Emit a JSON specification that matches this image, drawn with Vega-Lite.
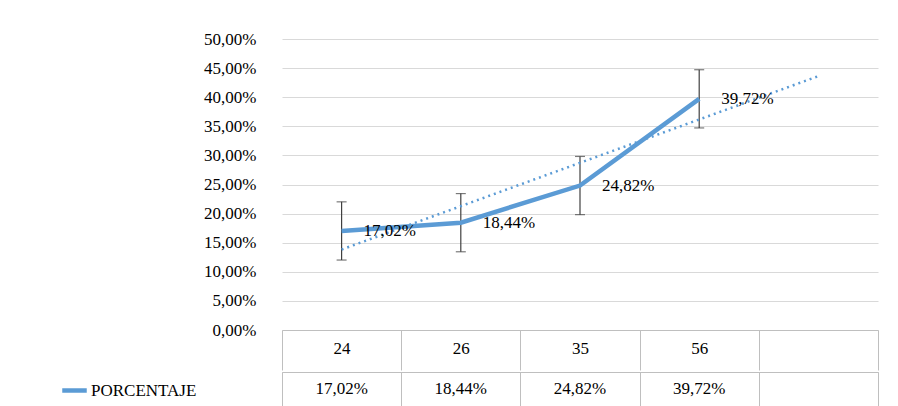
{
  "$schema": "https://vega.github.io/schema/vega-lite/v6.json",
  "padding": {"left": 60, "top": 30, "right": 5, "bottom": 0},
  "config": {
    "font": "Liberation Serif",
    "view": {"stroke": null},
    "mark": {"font": "Liberation Serif"},
    "text": {"font": "Liberation Serif", "fontSize": 17, "fill": "#000"},
    "axis": {"labelFont": "Liberation Serif", "labelFontSize": 17, "labelColor": "#000"},
    "legend": {"labelFont": "Liberation Serif", "labelFontSize": 17, "labelColor": "#000"}
  },
  "datasets": {
    "main": [
      {"cat": "24", "pct": 17.02, "lo": 12.02, "hi": 22.02, "serie": "PORCENTAJE"},
      {"cat": "26", "pct": 18.44, "lo": 13.44, "hi": 23.44, "serie": "PORCENTAJE"},
      {"cat": "35", "pct": 24.82, "lo": 19.82, "hi": 29.82, "serie": "PORCENTAJE"},
      {"cat": "56", "pct": 39.72, "lo": 34.72, "hi": 44.72, "serie": "PORCENTAJE"}
    ],
    "trend": [
      {"cat": "24", "t": 13.83},
      {"cat": " ", "t": 43.62}
    ]
  },
  "spacing": 0,
  "vconcat": [
    {
      "width": 596,
      "height": 291,
      "encoding": {
        "x": {
          "field": "cat", "type": "ordinal",
          "scale": {"domain": ["24", "26", "35", "56", " "]},
          "axis": {"title": null, "labelAngle": 0, "domain": true, "domainColor": "#bfbfbf",
                   "ticks": true, "tickBand": "extent", "tickSize": 40, "tickColor": "#bfbfbf",
                   "labelPadding": -22, "labelBaseline": "middle"}
        }
      },
      "layer": [
        {
          "data": {"name": "main"},
          "mark": {"type": "rule", "color": "#404040", "strokeWidth": 1.2},
          "encoding": {
            "y": {"field": "lo", "type": "quantitative",
                  "scale": {"domain": [0, 50]},
                  "axis": {"title": null, "tickCount": 10, "grid": true, "gridColor": "#d9d9d9",
                           "domain": false, "ticks": false, "labelPadding": 26,
                           "labelExpr": "replace(format(datum.value, '.2f'), '.', ',') + '%'"}},
            "y2": {"field": "hi"}
          }
        },
        {
          "data": {"name": "main"},
          "mark": {"type": "tick", "color": "#404040", "size": 10, "thickness": 1.2, "orient": "horizontal"},
          "encoding": {"y": {"field": "lo", "type": "quantitative"}}
        },
        {
          "data": {"name": "main"},
          "mark": {"type": "tick", "color": "#404040", "size": 10, "thickness": 1.2, "orient": "horizontal"},
          "encoding": {"y": {"field": "hi", "type": "quantitative"}}
        },
        {
          "data": {"name": "main"},
          "mark": {"type": "line", "strokeWidth": 4.5},
          "encoding": {
            "y": {"field": "pct", "type": "quantitative"},
            "color": {"field": "serie", "type": "nominal",
                      "scale": {"range": ["#5b9bd5"]},
                      "legend": {"title": null, "orient": "none", "legendX": -222, "legendY": 337,
                                 "symbolType": "stroke", "symbolStrokeWidth": 4.5, "symbolSize": 600,
                                 "labelOffset": 2}}
          }
        },
        {
          "data": {"name": "trend"},
          "mark": {"type": "line", "color": "#5b9bd5", "strokeWidth": 2.5, "strokeDash": [2, 4]},
          "encoding": {"y": {"field": "t", "type": "quantitative"}}
        },
        {
          "data": {"name": "main"},
          "mark": {"type": "text", "align": "left", "baseline": "middle", "dx": 22, "fontSize": 17, "font": "Liberation Serif", "fill": "#000"},
          "encoding": {
            "y": {"field": "pct", "type": "quantitative"},
            "text": {"value": {"expr": "replace(format(datum.pct, '.2f'), '.', ',') + '%'"}}
          }
        }
      ]
    },
    {
      "width": 596,
      "height": 34,
      "data": {"name": "main"},
      "view": {"stroke": "#bfbfbf"},
      "mark": {"type": "text", "fontSize": 17, "font": "Liberation Serif", "fill": "#000", "baseline": "middle"},
      "encoding": {
        "x": {"field": "cat", "type": "ordinal",
              "scale": {"domain": ["24", "26", "35", "56", " "]},
              "axis": {"orient": "top", "title": null, "labels": false, "domain": false,
                       "tickBand": "extent", "tickSize": -34, "tickColor": "#bfbfbf"}},
        "text": {"value": {"expr": "replace(format(datum.pct, '.2f'), '.', ',') + '%'"}}
      }
    }
  ]
}
